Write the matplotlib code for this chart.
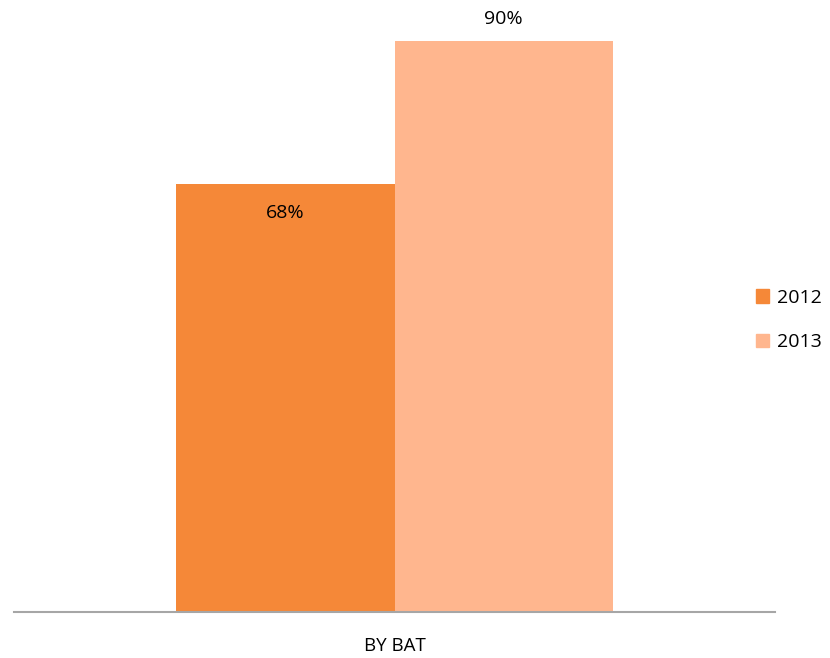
import matplotlib
matplotlib.use('Agg')
import matplotlib.pyplot as plt
from matplotlib.patches import Patch

categories = ["BY BAT"]
series = ["2012", "2013"]
values_2012 = [0.675]
values_2013 = [0.90]
colors = ["#F58838", "#FFB68E"]

plt.rcParams['font.family'] = ['Open Sans', 'DejaVu Sans']

fig = plt.figure(figsize=(8.3, 6.58), dpi=100)
W, H = 830, 658
ax = fig.add_axes([14 / W, (H - 612) / H, (775 - 14) / W, (612 - 20) / H])

bw = 0.287
x0 = 0
ax.bar(x0 - bw / 2, values_2012[0], bw, color=colors[0], label=series[0])
ax.bar(x0 + bw / 2, values_2013[0], bw, color=colors[1], label=series[1])

ax.set_xlim(-0.5, 0.5)
ax.set_ylim(0, 0.9 * 592 / 571)

# value labels: 2012 inside the bar top, 2013 above it
ax.annotate(f"{values_2012[0]*100:.0f}%", (x0 - bw / 2, values_2012[0]),
            xytext=(0, -29), textcoords='offset pixels', ha='center', va='center', fontsize=14)
ax.annotate(f"{values_2013[0]*100:.0f}%", (x0 + bw / 2, values_2013[0]),
            xytext=(0, 22), textcoords='offset pixels', ha='center', va='center', fontsize=14)

for s in ['top', 'right', 'left']:
    ax.spines[s].set_visible(False)
ax.spines['bottom'].set_color('#A6A6A6')
ax.spines['bottom'].set_linewidth(1.5)
ax.set_yticks([])
ax.set_xticks([x0])
ax.set_xticklabels(categories, fontsize=13.5)
ax.tick_params(axis='x', length=0, pad=18)

handles = [Patch(color=c, label=s) for c, s in zip(colors, series)]
fig.legend(handles=handles, loc='center left', bbox_to_anchor=(748 / W, 1 - 320 / H),
           frameon=False, fontsize=14, handlelength=0.7, handleheight=0.7,
           handletextpad=0.4, labelspacing=1.35, borderaxespad=0)

fig.savefig('out.png', dpi=100)
